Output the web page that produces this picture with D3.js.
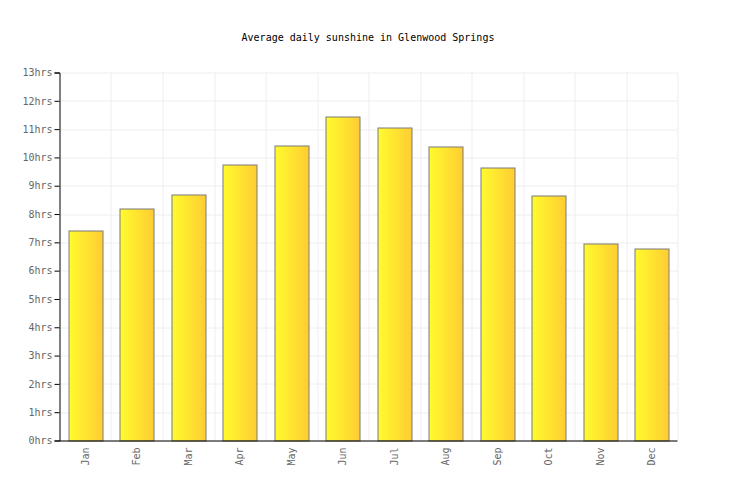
<!DOCTYPE html>
<html>
<head>
<meta charset="utf-8">
<script src="https://cdn.jsdelivr.net/npm/d3@7/dist/d3.min.js"></script>
<style>
  html, body { margin: 0; padding: 0; background: #fff; }
  svg text { font-family: "DejaVu Sans Mono", monospace; }
</style>
</head>
<body>
<div id="chart"></div>
<script>
// Average daily sunshine per month
const months = ["Jan", "Feb", "Mar", "Apr", "May", "Jun", "Jul", "Aug", "Sep", "Oct", "Nov", "Dec"]
const sunshineHours = [7.42, 8.19, 8.68, 9.76, 10.43, 11.46, 11.07, 10.40, 9.65, 8.66, 6.97, 6.79]
const yTicks = [0, 1, 2, 3, 4, 5, 6, 7, 8, 9, 10, 11, 12, 13]
const title = "Average daily sunshine in Glenwood Springs"

const width = 736
const height = 500
const margin = { top: 72.5, right: 58.5, bottom: 59.5, left: 59.5 }
const innerWidth = width - margin.left - margin.right
const innerHeight = height - margin.top - margin.bottom

const svg = d3.select("#chart")
  .append("svg")
  .attr("width", width)
  .attr("height", height)

// Bar gradient, bright yellow to amber
const gradient = svg.append("defs")
  .append("linearGradient")
  .attr("id", "bar-gradient")
  .attr("x1", "0%")
  .attr("y1", "0%")
  .attr("x2", "100%")
  .attr("y2", "0%")

gradient.append("stop").attr("offset", "0%").attr("stop-color", "#fffb2e")
gradient.append("stop").attr("offset", "100%").attr("stop-color", "#ffcc33")

// Title
svg.append("text")
  .attr("x", width / 2)
  .attr("y", 41)
  .attr("text-anchor", "middle")
  .style("font-size", "10px")
  .style("fill", "#000")
  .text(title)

const g = svg.append("g")
  .attr("transform", `translate(${margin.left},${margin.top})`)

// Scales
const x = d3.scaleBand()
  .domain(months)
  .range([0, innerWidth])
  .paddingInner(0.34)
  .paddingOuter(0.17)

const y = d3.scaleLinear()
  .domain([0, 13])
  .range([innerHeight, 0])

// Horizontal grid lines
g.append("g")
  .attr("class", "grid-y")
  .selectAll("line")
  .data(yTicks)
  .enter()
  .append("line")
  .attr("x1", 0)
  .attr("x2", innerWidth)
  .attr("y1", d => Math.round(y(d)) + 0.5)
  .attr("y2", d => Math.round(y(d)) + 0.5)
  .attr("stroke", "#eeeeee")
  .attr("stroke-width", 1)

// Vertical grid lines at category boundaries
const step = x.step()
g.append("g")
  .attr("class", "grid-x")
  .selectAll("line")
  .data(months)
  .enter()
  .append("line")
  .attr("x1", d => Math.round(x(d) - x.paddingOuter() * step + step) + 0.5)
  .attr("x2", d => Math.round(x(d) - x.paddingOuter() * step + step) + 0.5)
  .attr("y1", 0)
  .attr("y2", innerHeight)
  .attr("stroke", "#eeeeee")
  .attr("stroke-width", 1)

// Bars
g.selectAll(".bar")
  .data(sunshineHours)
  .enter()
  .append("rect")
  .attr("class", "bar")
  .attr("x", (d, i) => Math.round(x(months[i])) + 0.5)
  .attr("y", d => Math.round(y(d)) + 0.5)
  .attr("width", Math.round(x.bandwidth()))
  .attr("height", d => innerHeight - Math.round(y(d)))
  .attr("fill", "url(#bar-gradient)")
  .attr("stroke", "#7a7a7a")
  .attr("stroke-width", 1)

// Y axis
const yAxis = d3.axisLeft(y)
  .tickValues(yTicks)
  .tickSize(5)
  .tickPadding(2)
  .tickFormat(d => `${d}hrs`)

g.append("g")
  .attr("class", "y-axis")
  .call(yAxis)

// X axis
const xAxis = d3.axisBottom(x)
  .tickSize(0)
  .tickPadding(8)

g.append("g")
  .attr("class", "x-axis")
  .attr("transform", `translate(0,${innerHeight})`)
  .call(xAxis)
  .selectAll("text")
  .attr("transform", "rotate(-90)")
  .attr("text-anchor", "end")
  .attr("x", -7)
  .attr("y", 0)
  .attr("dy", "0.35em")

// Axis styling
g.selectAll(".y-axis text, .x-axis text")
  .style("font-size", "10px")
  .style("fill", "#666")
  .style("font-family", "'DejaVu Sans Mono', monospace")

g.selectAll(".y-axis path, .y-axis line, .x-axis path")
  .attr("stroke", "#000")
  .attr("stroke-width", 1)

g.select(".x-axis path").attr("d", `M0,0.5H${innerWidth}`)
</script>
</body>
</html>
